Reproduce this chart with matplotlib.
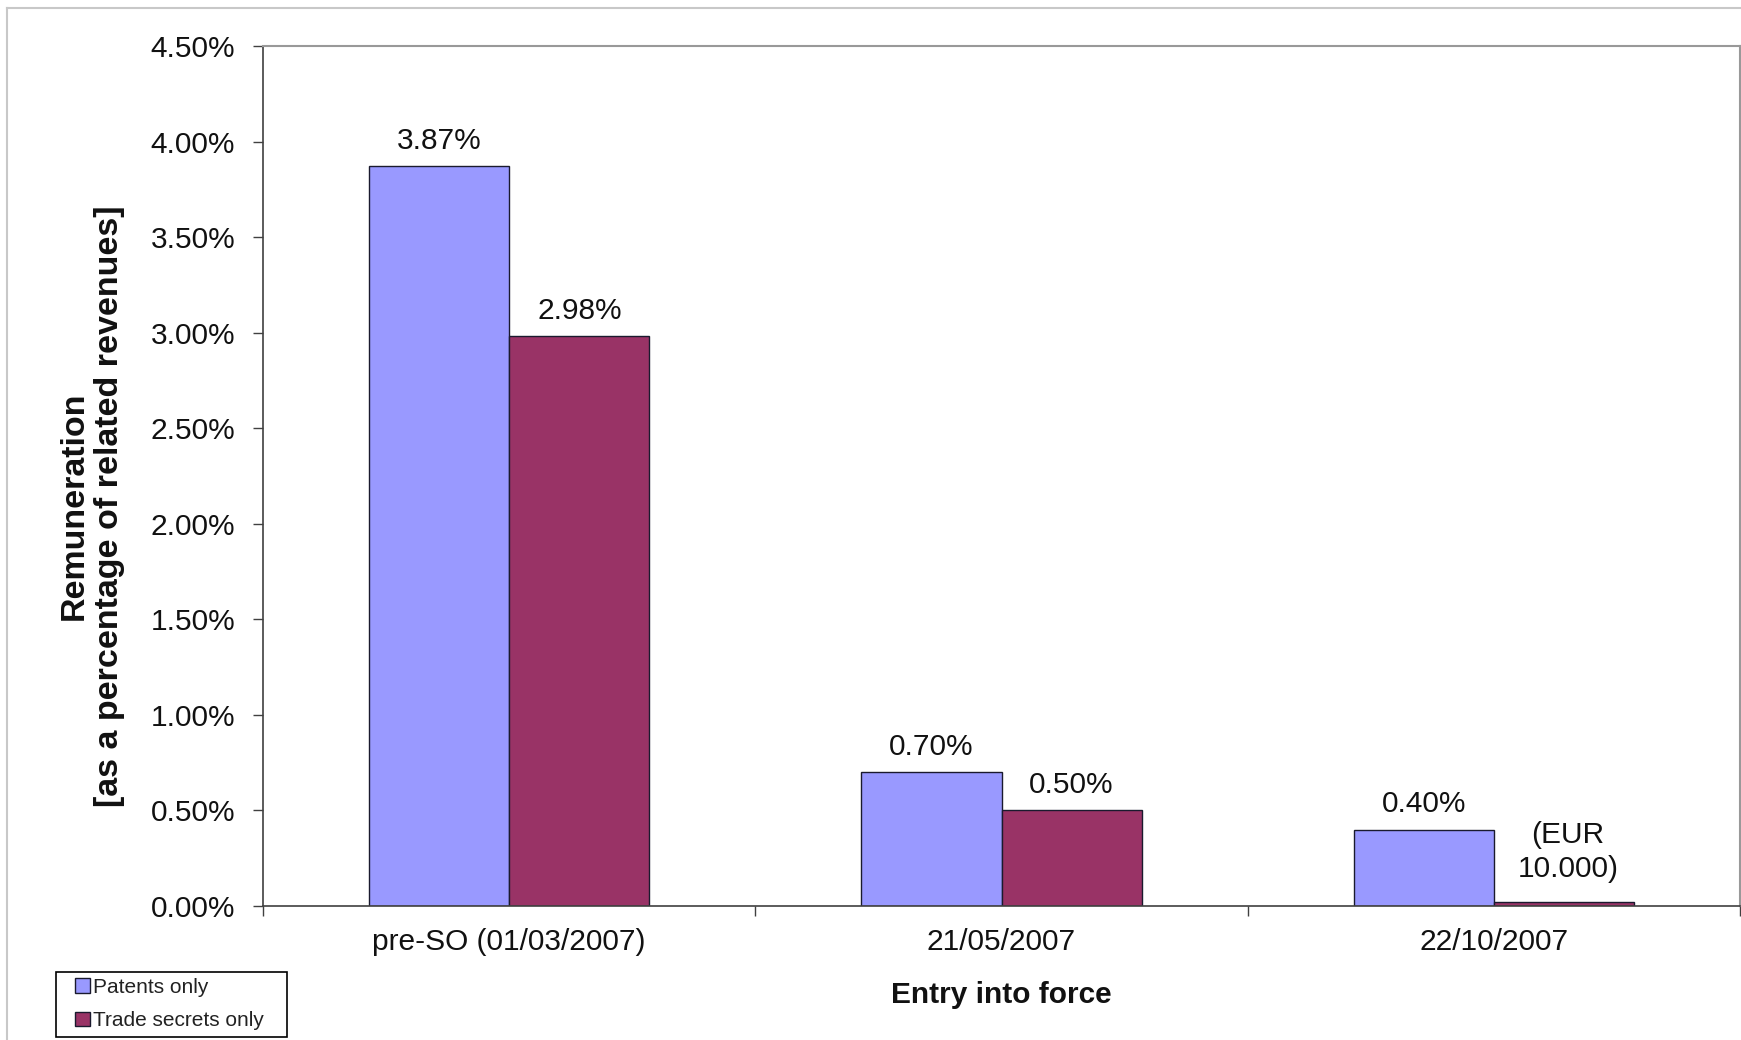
import matplotlib
matplotlib.use("Agg")
import matplotlib.pyplot as plt
from matplotlib.lines import Line2D
from matplotlib.patches import Patch, Rectangle
from matplotlib.ticker import FixedLocator, FuncFormatter
import numpy as np

plt.rcParams['font.family'] = ['Liberation Sans', 'DejaVu Sans']

categories = ["pre-SO (01/03/2007)", "21/05/2007", "22/10/2007"]
series_names = ["Patents only", "Trade secrets only"]
patents = [3.87, 0.70, 0.40]
trade_secrets = [2.98, 0.50, 0.02]
patents_labels = ["3.87%", "0.70%", "0.40%"]
trade_labels = ["2.98%", "0.50%", "(EUR\n10.000)"]
yticks = [0.0, 0.5, 1.0, 1.5, 2.0, 2.5, 3.0, 3.5, 4.0, 4.5]

colors = ["#9999FF", "#993366"]
FS = 21.5

W, H = 1741, 1040
fig = plt.figure(figsize=(W / 100, H / 100), dpi=100)
ax = fig.add_axes([263 / W, 1 - 906 / H, (1740 - 263) / W, (906 - 46) / H])

x = np.arange(len(categories))
bw = 0.285
b1 = ax.bar(x - bw / 2, patents, bw, color=colors[0], edgecolor="#1a1a2e", linewidth=1.0)
b2 = ax.bar(x + bw / 2, trade_secrets, bw, color=colors[1], edgecolor="#1a1a2e", linewidth=1.0)

for rect, lab in zip(b1, patents_labels):
    ax.annotate(lab, (rect.get_x() + rect.get_width() / 2, rect.get_height()),
                xytext=(0, 8), textcoords="offset points", ha="center", va="bottom",
                fontsize=FS, color="#111111")
for rect, lab in zip(b2, trade_labels):
    off = 8 if "\n" not in lab else 14
    ax.annotate(lab, (rect.get_x() + rect.get_width() / 2, rect.get_height()),
                xytext=(3 if "\n" in lab else 0, off), textcoords="offset points",
                ha="center", va="bottom",
                fontsize=FS, color="#111111", multialignment="center", linespacing=1.25)

ax.set_xlim(-0.5, 2.5)
ax.set_ylim(0, 4.5)
ax.set_yticks(yticks)
ax.yaxis.set_major_formatter(FuncFormatter(lambda v, p: f"{v:.2f}%"))
ax.tick_params(axis="y", direction="out", length=7, width=1, color="#404040",
               labelsize=FS, pad=13, labelcolor="#111111")

ax.xaxis.set_major_locator(FixedLocator([-0.5, 0.5, 1.5, 2.5]))
ax.xaxis.set_minor_locator(FixedLocator(list(x)))
ax.set_xticklabels([])
ax.set_xticks(x, minor=True)
ax.set_xticklabels(categories, minor=True)
ax.tick_params(axis="x", which="major", direction="out", length=7, width=1, color="#404040")
ax.tick_params(axis="x", which="minor", length=0, labelsize=FS, pad=16, labelcolor="#111111")

for s in ["top", "right"]:
    ax.spines[s].set_color("#999999")
    ax.spines[s].set_linewidth(1.5)
for s in ["left", "bottom"]:
    ax.spines[s].set_color("#404040")
    ax.spines[s].set_linewidth(1.2)

ax.set_ylabel("Remuneration\n[as a percentage of related revenues]", fontsize=24.5,
              fontweight="bold", linespacing=1.2, color="#111111")
ax.yaxis.label.set_verticalalignment("center")
ax.yaxis.set_label_coords(-0.116, 0.465)

ax.set_xlabel("Entry into force", fontsize=FS, fontweight="bold", color="#111111")
ax.xaxis.label.set_verticalalignment("center")
ax.xaxis.set_label_coords(0.5, -0.103)

# legend: frame drawn separately for exact padding
fig.add_artist(Rectangle((56 / W, 1 - 1037 / H), (287 - 56) / W, (1037 - 972) / H,
                         transform=fig.transFigure, facecolor="white",
                         edgecolor="black", linewidth=1.2))
handles = [Patch(facecolor=c, edgecolor="#1a1a2e", linewidth=1.0) for c in colors]
leg = fig.legend(handles, series_names, loc="upper left",
                 bbox_to_anchor=(75 / W, 1 - 978 / H), fontsize=15,
                 frameon=False,
                 handlelength=0.7, handleheight=0.7, handletextpad=0.15,
                 borderpad=0.0, labelspacing=0.68, borderaxespad=0)
for t in leg.get_texts():
    t.set_color("#222222")

fig.add_artist(Line2D([7 / W, 1], [1 - 8 / H, 1 - 8 / H], transform=fig.transFigure,
                      color="#c8c8c8", linewidth=1.5))
fig.add_artist(Line2D([7 / W, 7 / W], [0, 1 - 8 / H], transform=fig.transFigure,
                      color="#c8c8c8", linewidth=1.5))

fig.savefig("out.png", dpi=100, facecolor="white")
